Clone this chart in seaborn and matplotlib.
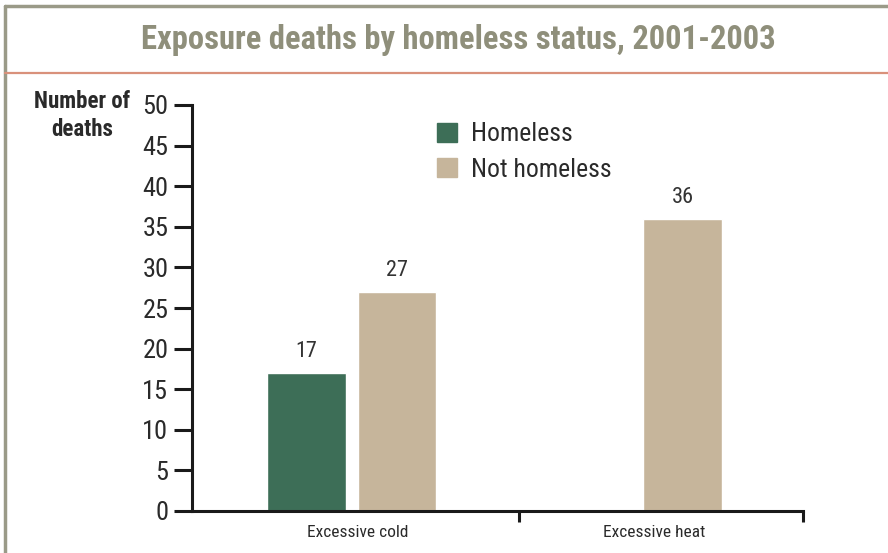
import matplotlib
matplotlib.use("Agg")
import matplotlib.pyplot as plt
from matplotlib.lines import Line2D
from matplotlib import font_manager as fm
import seaborn as sns
import pandas as pd
import numpy as np

categories = ["Excessive cold", "Excessive heat"]
homeless = [17, np.nan]
not_homeless = [27, 36]
series_names = ["Homeless", "Not homeless"]
colors = ["#3d6e57", "#c6b59b"]
title = "Exposure deaths by homeless status, 2001-2003"
yticks = [0, 5, 10, 15, 20, 25, 30, 35, 40, 45, 50]

df = pd.DataFrame({
    "category": categories * 2,
    "status": [series_names[0]] * 2 + [series_names[1]] * 2,
    "deaths": homeless + not_homeless,
})

sns.set_style("white")
available = {f.name for f in fm.fontManager.ttflist}
candidates = ["Roboto Condensed", "Liberation Sans Narrow", "Archivo Narrow",
              "PT Sans Narrow", "Fira Sans Condensed", "IBM Plex Sans Condensed"]
fams = [c for c in candidates if c in available] + ["DejaVu Sans"]
plt.rcParams["font.family"] = fams

W, H = 888, 553
fig = plt.figure(figsize=(W / 100, H / 100), dpi=100)
ax = fig.add_axes([192 / W, 1 - 511 / H, (803 - 192) / W, (511 - 105) / H])

sns.barplot(data=df, x="category", y="deaths", hue="status", order=categories,
            hue_order=series_names, palette=colors, width=0.633, gap=0.13,
            ax=ax, errorbar=None, saturation=1, legend=False)

for cont in ax.containers:
    for rect in cont:
        h = rect.get_height()
        if np.isfinite(h) and h > 0:
            ax.text(rect.get_x() + rect.get_width() / 2, h + 2.6, f"{h:.0f}",
                    ha="center", va="center", fontsize=16, color="#333333")

ax.set_xlim(-0.559, 1.579)
ax.set_ylim(0, 50)
ax.set_yticks(yticks)
ax.set_yticklabels([str(v) for v in yticks])
ax.tick_params(axis="y", length=13, width=2.2, color="#1a1a1a", labelsize=19,
               labelcolor="#2a2a2a", pad=4, left=True)
ax.set_xticks([0.02, 1.06])
ax.set_xticklabels(categories)
ax.tick_params(axis="x", which="major", length=0, labelsize=12.5, labelcolor="#2a2a2a", pad=10)
ax.set_xticks([0.584, 1.579], minor=True)
ax.tick_params(axis="x", which="minor", length=8, width=2.2, color="#1a1a1a", bottom=True)
ax.set_xlabel("")
ax.set_ylabel("")
for s in ["top", "right"]:
    ax.spines[s].set_visible(False)
for s in ["left", "bottom"]:
    ax.spines[s].set_visible(True)
    ax.spines[s].set_color("#1a1a1a")
    ax.spines[s].set_linewidth(2.2)

handles = [plt.Rectangle((0, 0), 1, 1, color=c) for c in colors]
leg = ax.legend(handles, series_names, loc="upper left",
                bbox_to_anchor=((427 - 192) / (803 - 192), 1 - (112 - 105) / 406),
                frameon=False, fontsize=18.5, handlelength=0.75, handleheight=0.75,
                handletextpad=0.55, labelspacing=0.45, borderaxespad=0)
for t in leg.get_texts():
    t.set_color("#2a2a2a")

fig.text(82 / W, 1 - 101 / H, "Number of", ha="center", va="center", fontsize=16.5,
         fontweight="bold", color="#2a2a2a")
fig.text(82 / W, 1 - 129 / H, "deaths", ha="center", va="center", fontsize=16.5,
         fontweight="bold", color="#2a2a2a")

fig.text(458 / W, 1 - 40 / H, title, ha="center", va="center", fontsize=23.5,
         fontweight="bold", color="#8f8f7b")

fig.add_artist(Line2D([5 / W, 5 / W], [0, 1 - 6 / H], color="#9a9a88", lw=2.5))
fig.add_artist(Line2D([5 / W, 1], [1 - 6 / H, 1 - 6 / H], color="#9a9a88", lw=2.5))
fig.add_artist(Line2D([5 / W, 1], [1 - 73 / H, 1 - 73 / H], color="#d9917b", lw=1.6))

fig.savefig("out.png", dpi=100)
